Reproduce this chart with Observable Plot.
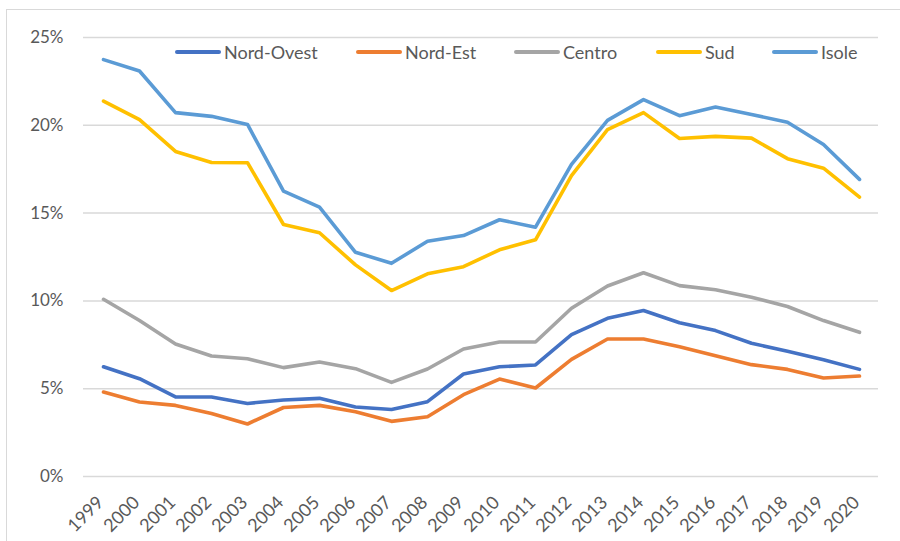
<!DOCTYPE html>
<html>
<head>
<meta charset="utf-8">
<script src="https://cdn.jsdelivr.net/npm/d3@7"></script>
<script src="https://cdn.jsdelivr.net/npm/@observablehq/plot@0.6"></script>
<style>
  html, body { margin: 0; padding: 0; background: #fff; overflow: hidden; }
  #wrap { position: relative; width: 900px; height: 541px; font-family: Lato, "Open Sans", sans-serif; }
  #border { position: absolute; left: 6px; top: 9px; width: 1000px; height: 1000px; border: 1.5px solid #d9d9d9; box-sizing: border-box; }
  #legend { position: absolute; top: 40px; left: 0; height: 24px; width: 900px; }
  .item { position: absolute; top: 0; display: flex; align-items: center; height: 24px; font-size: 18px; color: #595959; }
  .sw { width: 46px; height: 4px; border-radius: 2px; margin-right: 3px; }
  svg { position: absolute; left: 0; top: 0; }
</style>
</head>
<body>
<div id="wrap">
  <div id="border"></div>
  <div id="chart"></div>
  <div id="legend"></div>
</div>
<script>
const years = ["1999","2000","2001","2002","2003","2004","2005","2006","2007","2008","2009","2010","2011","2012","2013","2014","2015","2016","2017","2018","2019","2020"];
const seriesNames = ["Nord-Ovest","Nord-Est","Centro","Sud","Isole"];
const seriesColors = ["#4472C4","#ED7D31","#A5A5A5","#FFC000","#5B9BD5"];
const nordOvest = [6.25,5.57,4.53,4.53,4.16,4.36,4.45,3.96,3.82,4.26,5.84,6.25,6.35,8.08,9.01,9.45,8.76,8.31,7.59,7.13,6.65,6.10];
const nordEst   = [4.81,4.24,4.05,3.59,2.99,3.93,4.05,3.69,3.14,3.40,4.66,5.55,5.04,6.67,7.83,7.83,7.39,6.88,6.37,6.10,5.61,5.72];
const centro    = [10.09,8.88,7.55,6.86,6.71,6.20,6.52,6.14,5.36,6.12,7.26,7.66,7.66,9.58,10.85,11.60,10.87,10.63,10.21,9.68,8.88,8.21];
const sud       = [21.38,20.32,18.51,17.88,17.87,14.35,13.88,12.05,10.59,11.54,11.95,12.91,13.48,17.14,19.75,20.72,19.25,19.37,19.27,18.10,17.56,15.91];
const isole     = [23.74,23.09,20.72,20.51,20.05,16.25,15.34,12.77,12.14,13.40,13.72,14.62,14.20,17.77,20.28,21.46,20.55,21.04,20.62,20.17,18.91,16.92];
const yTicks = [0,5,10,15,20,25];

const seriesValues = [nordOvest, nordEst, centro, sud, isole];
const data = [];
seriesNames.forEach((s, i) => years.forEach((y, j) => data.push({series: s, year: y, value: seriesValues[i][j]})));

const chart = Plot.plot({
  width: 900,
  height: 541,
  marginLeft: 83,
  marginRight: 22,
  marginTop: 37,
  marginBottom: 65,
  style: {fontFamily: "Lato, 'Open Sans', sans-serif", fontSize: "17px", color: "#595959", background: "transparent", overflow: "visible"},
  x: {type: "point", domain: years, padding: 0.5, label: null},
  y: {domain: [0, 25], label: null},
  color: {domain: seriesNames, range: seriesColors},
  marks: [
    Plot.gridY(yTicks, {stroke: "#d9d9d9", strokeOpacity: 1, strokeWidth: 1.5}),
    Plot.axisY(yTicks, {tickSize: 0, tickPadding: 20, tickFormat: d => d + "%", fontSize: 17, fill: "#595959", label: null}),
    Plot.axisX(years, {tickSize: 0, tickPadding: 6, dy: 17, dx: -3, tickRotate: -45, fontSize: 18, fill: "#595959", label: null}),
    Plot.line(data, {x: "year", y: "value", z: "series", stroke: "series", strokeWidth: 3.6, strokeLinejoin: "round", strokeLinecap: "round"})
  ]
});
document.getElementById("chart").appendChild(chart);

const legendX = [175, 356, 514, 656, 772];
const legend = document.getElementById("legend");
seriesNames.forEach((s, i) => {
  const it = document.createElement("div");
  it.className = "item";
  it.style.left = legendX[i] + "px";
  const sw = document.createElement("div");
  sw.className = "sw";
  sw.style.background = seriesColors[i];
  const t = document.createElement("span");
  t.textContent = s;
  it.appendChild(sw);
  it.appendChild(t);
  legend.appendChild(it);
});
</script>
</body>
</html>
